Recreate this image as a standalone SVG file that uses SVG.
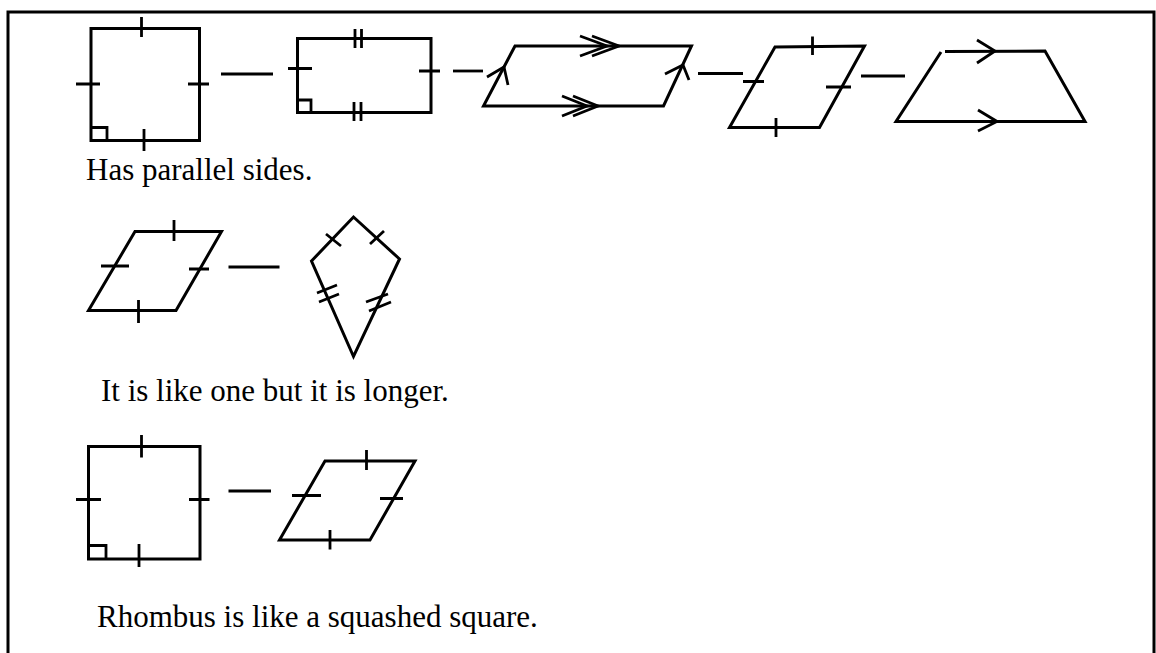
<svg xmlns="http://www.w3.org/2000/svg" width="1156" height="653" viewBox="0 0 1156 653">
<style>
.s{fill:none;stroke:#000;stroke-width:3;stroke-linejoin:miter;stroke-linecap:butt}
.t{fill:none;stroke:#000;stroke-width:2.8}
.c{fill:none;stroke:#000;stroke-width:2.8}
.lbl{font-family:"Liberation Serif","Times New Roman",serif;font-size:31px;fill:#000}
</style>
<rect x="0" y="0" width="1156" height="653" fill="#fff"/>
<g id="frame"><path class="s" d="M8,660 L8,12 L1154,12 L1154,660"/></g>

<g id="square1">
<rect class="s" x="91" y="28.5" width="108.5" height="112"/>
<path class="t" d="M141.5,17 V37 M144,129 V151 M76,84 H100 M188,84 H209"/>
<path class="t" d="M91,127.5 H107 V140.5"/>
</g>
<g id="rectangle1">
<rect class="s" x="297.5" y="38.5" width="133.5" height="74"/>
<path class="t" d="M355,29 V48 M361.5,29 V48 M354,102 V121 M361,102 V121 M288,68.5 H312 M419,71 H440"/>
<path class="t" d="M297.5,100 H311 V112.5"/>
</g>
<g id="parallelogram1">
<polygon class="s" points="515,46 691.5,46 663.5,106 483.5,106"/>
<path class="t" d="M580,36 L607,46 L580,56 M592,36 L619,46 L592,56"/>
<path class="t" d="M562,96 L587,106 L562,116 M573,96 L598,106 L573,116"/>
<path class="t" d="M487,77 L504,67 L508,85 M665,74 L683,65 L689,80"/>
</g>
<g id="rhombus1">
<polygon class="s" points="775,47 864.5,46 819.5,127.5 729.5,127.5"/>
<path class="t" d="M812.5,36.5 V55 M776,118 V137 M743,81.5 H764 M826,87 H851"/>
</g>
<g id="trapezoid1">
<path class="s" d="M945,51.5 L1045,51 L1085,121.5 L896,121.5 L941,52"/>
<path class="t" d="M977,40 L995,51 L977,63 M978,110 L997,121.5 L978,131"/>
</g>
<text id="label1" class="lbl" x="86" y="180">Has parallel sides.</text>

<g id="rhombus2">
<polygon class="s" points="135,231.5 221.5,231.5 176,310.5 88.5,310.5"/>
<path class="t" d="M174,220 V241 M138.5,300 V323 M101,266 H129 M189,269 H209"/>
</g>
<g id="kite1">
<polygon class="s" points="353.5,217 399.5,259 353.5,356.5 311.5,261"/>
<path class="t" d="M326,234 L341,246 M370,244 L384,231"/>
<path class="t" d="M317,293 L337,285 M319,302 L339,294 M366,302 L388,294 M369,311 L391,302"/>
</g>
<text id="label2" class="lbl" x="101" y="401">It is like one but it is longer.</text>

<g id="square2">
<rect class="s" x="88.5" y="446.5" width="111.5" height="112.5"/>
<path class="t" d="M141.5,435 V457.5 M139,544 V567 M76,499.5 H101 M189,499.5 H209.5"/>
<path class="t" d="M88.5,545.5 H106 V559"/>
</g>
<g id="rhombus3">
<polygon class="s" points="325,461 415,461 370,540 279.5,540"/>
<path class="t" d="M366.5,450 V470 M330,530 V549.5 M292,495.5 H321 M380,498.5 H403"/>
</g>
<text id="label3" class="lbl" x="97" y="627">Rhombus is like a squashed square.</text>

<g id="connectors">
<line class="c" x1="221" y1="74" x2="273" y2="74"/>
<line class="c" x1="453" y1="71" x2="483" y2="71"/>
<line class="c" x1="698" y1="73.5" x2="743" y2="73.5"/>
<line class="c" x1="861" y1="76" x2="905" y2="76"/>
<line class="c" x1="228.5" y1="267" x2="279.5" y2="267"/>
<line class="c" x1="228.5" y1="491" x2="271" y2="491"/>
</g>
</svg>
